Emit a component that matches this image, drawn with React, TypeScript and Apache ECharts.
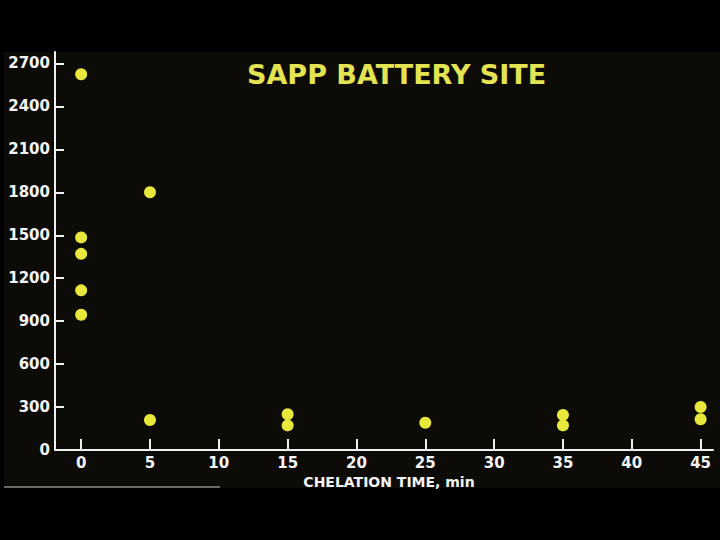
import React, { useEffect, useRef } from "react";
import * as echarts from "echarts";

const titleText = "SAPP BATTERY SITE";
const xAxisName = "CHELATION TIME, min";
const xTickValues = [0, 5, 10, 15, 20, 25, 30, 35, 40, 45];
const yTickValues = [0, 300, 600, 900, 1200, 1500, 1800, 2100, 2400, 2700];
const chelationTime = [0, 0, 0, 0, 0, 5, 5, 15, 15, 25, 35, 35, 45, 45];
const concentration = [2625, 1485, 1370, 1115, 945, 1800, 210, 250, 172, 190, 245, 172, 300, 215];

const FONT = "DejaVu Sans";

export default function App() {
  const ref = useRef<HTMLDivElement>(null);
  useEffect(() => {
    if (!ref.current) return;
    const chart = echarts.init(ref.current, null, { renderer: "svg" });
    const points = chelationTime.map((t, i) => [t, concentration[i]]);
    chart.setOption({
      animation: false,
      backgroundColor: "#000000",
      graphic: [
        {
          type: "rect",
          z: -10,
          silent: true,
          shape: { x: 4, y: 52, width: 716, height: 436 },
          style: { fill: "#0d0b08" },
        },
        {
          type: "line",
          z: -5,
          silent: true,
          shape: { x1: 4, y1: 487, x2: 220, y2: 487 },
          style: { stroke: "#8a8a88", lineWidth: 1.5 },
        },
        {
          type: "text",
          left: 247,
          top: 61,
          style: {
            text: titleText,
            fill: "#e4e452",
            font: `bold 27px "${FONT}"`,
          },
        },
      ],
      grid: { left: 55, right: 7, top: 52, bottom: 90 },
      xAxis: {
        type: "value",
        min: -1.9,
        max: 45.9,
        name: xAxisName,
        nameLocation: "middle",
        nameGap: 24,
        nameTextStyle: {
          color: "#f4f4f4",
          fontFamily: FONT,
          fontWeight: "bold",
          fontSize: 14,
          padding: [0, 0, 0, 10],
        },
        axisLine: { show: true, onZero: false, lineStyle: { color: "#f0f0f0", width: 2 } },
        axisTick: {
          show: true,
          inside: true,
          length: 11,
          customValues: xTickValues,
          lineStyle: { color: "#f0f0f0", width: 2 },
        },
        axisLabel: {
          customValues: xTickValues,
          formatter: (v: number) => String(v),
          margin: 5,
          color: "#f4f4f4",
          fontFamily: FONT,
          fontWeight: "bold",
          fontSize: 15,
        },
        splitLine: { show: false },
      },
      yAxis: {
        type: "value",
        min: 0,
        max: 2780,
        axisLine: { show: true, onZero: false, lineStyle: { color: "#f0f0f0", width: 2 } },
        axisTick: {
          show: true,
          inside: true,
          length: 9,
          customValues: yTickValues,
          lineStyle: { color: "#f0f0f0", width: 2 },
        },
        axisLabel: {
          customValues: yTickValues,
          formatter: (v: number) => String(v),
          margin: 5,
          color: "#f4f4f4",
          fontFamily: FONT,
          fontWeight: "bold",
          fontSize: 15,
        },
        splitLine: { show: false },
      },
      series: [
        {
          type: "scatter",
          data: points,
          symbol: "circle",
          symbolSize: 12,
          itemStyle: { color: "#e8e83c", opacity: 1 },
        },
      ],
    });
    return () => chart.dispose();
  }, []);
  return (
    <div
      ref={ref}
      style={{ position: "fixed", left: 0, top: 0, width: 720, height: 540, background: "#000" }}
    />
  );
}
